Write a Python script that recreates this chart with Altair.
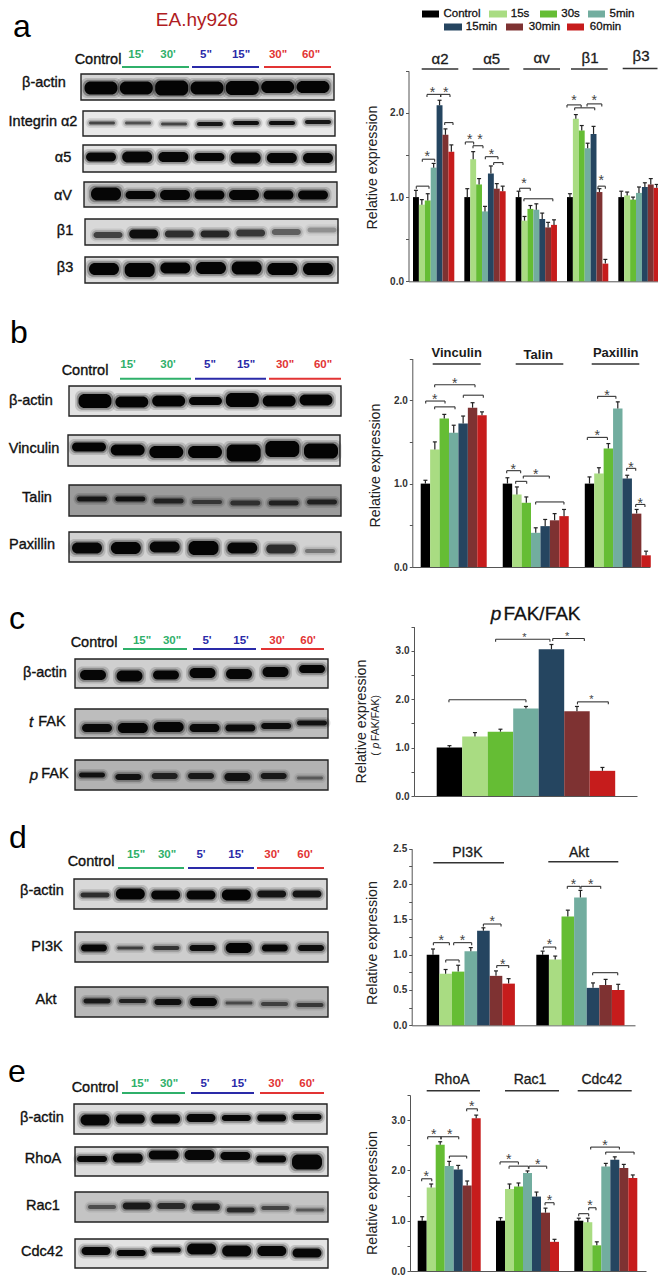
import altair as alt
import pandas as pd

FONT = "Liberation Sans"
W, H = 650, 1267
M = 8  # page margin: reference pixels minus this = chart pixels

SERIES = ["Control", "15s", "30s", "5min", "15min", "30min", "60min"]
COLORS = ["#000000", "#a9dc82", "#65bd34", "#72ad9f", "#254560", "#7e3232", "#c61c1c"]
GREEN, BLUE, RED = "#2fb06a", "#2a2aa8", "#e23434"

# ---------- values ----------
A_VALS = [[1.0, .91, .96, 1.35, 2.09, 1.74, 1.54], [1.0, 1.45, 1.15, .83, 1.28, 1.10, 1.07],
          [1.0, .72, .86, .85, .74, .64, .67], [1.0, 1.93, 1.79, 1.58, 1.75, 1.06, .21],
          [1.0, 1.02, .97, 1.05, 1.12, 1.15, 1.11]]
A_ERRS = [[1.08, .97, 1.04, 1.40, 2.15, 1.81, 1.62], [1.10, 1.54, 1.22, .89, 1.37, 1.16, 1.13],
          [1.07, .77, .90, .92, .81, .70, .73], [1.04, 1.98, 1.85, 1.64, 1.84, 1.10, .26],
          [1.07, 1.06, 1.0, 1.12, 1.17, 1.22, 1.15]]
A_BRK = [(.56, 2.71, 1.13, None, None), (1.58, 3.67, 1.45, 2.43, 1.51), (2.37, 4.69, 2.22, 3.28, 2.27),
         (4.69, 6.27, 2.22, 5.54, 2.27), (5.37, 6.78, 1.885, None, None), (8.87, 10.28, 1.655, 9.6, 1.707),
         (10.17, 11.86, 1.61, 11.36, 1.707), (12.26, 14.4, 1.48, 13.28, 1.537), (13.67, 15.25, 1.41, None, None),
         (18.07, 19.88, 1.105, 18.81, 1.184), (18.8, 23.7, .98, None, None), (26.1, 28.5, 2.095, 27.29, 2.17),
         (27.4, 30.8, 2.06, None, None), (29.5, 32.0, 2.107, 30.73, 2.18), (31.35, 32.6, 1.13, 31.9, 1.224)]

B_VALS = [[1.0, 1.41, 1.78, 1.61, 1.72, 1.91, 1.82], [1.0, .87, .77, .41, .49, .56, .61],
          [1.0, 1.12, 1.42, 1.90, 1.06, .64, .14]]
B_ERRS = [[1.04, 1.5, 1.83, 1.70, 1.81, 1.97, 1.86], [1.07, .96, .84, .47, .57, .64, .69],
          [1.08, 1.19, 1.48, 1.98, 1.10, .69, .19]]
B_BRK = [(.53, 2.58, 1.99, 1.48, 2.04), (1.48, 3.64, 1.92, None, None), (1.48, 5.76, 2.185, 3.6, 2.233),
         (4.52, 6.64, 2.06, None, None), (9.12, 10.6, 1.155, 9.82, 1.195), (10.07, 11.24, 1.027, None, None),
         (10.88, 13.64, 1.09, 12.19, 1.135), (12.19, 15.19, .78, None, None), (17.67, 19.8, 1.554, 18.73, 1.6),
         (18.76, 20.7, 2.046, 19.75, 2.085), (21.84, 22.8, 1.183, 22.3, 1.22), (22.8, 23.78, .75, 23.29, .79)]

C_VALS = [[1.0, 1.23, 1.33, 1.81, 3.03, 1.75, .52]]
C_ERRS = [[1.04, 1.31, 1.38, 1.85, 3.13, 1.85, .59]]
C_BRK = [(.48, 3.5, 1.99, None, None), (2.31, 4.44, 3.24, 3.44, 3.32), (4.55, 5.79, 3.255, 5.12, 3.33),
         (5.52, 6.73, 1.945, 6.07, 2.03)]

D_VALS = [[1.0, .73, .76, 1.05, 1.34, .70, .59], [1.0, .93, 1.54, 1.81, .53, .57, .50]]
D_ERRS = [[1.08, .79, .85, 1.10, 1.38, .77, .66], [1.05, .98, 1.63, 1.91, .60, .65, .58]]
D_BRK = [(.53, 1.8, 1.17, 1.16, 1.226), (1.51, 2.57, .925, None, None), (2.14, 3.57, 1.17, 2.83, 1.226),
         (4.5, 5.9, 1.434, 5.19, 1.505), (5.56, 6.51, .845, 6.03, .896), (9.26, 10.24, 1.108, 9.74, 1.17),
         (11.16, 12.17, 1.967, 11.64, 2.03), (12.25, 13.81, 1.967, 13.02, 2.03), (13.17, 15.16, .745, None, None)]

E_VALS = [[1.0, 1.66, 2.51, 2.09, 2.02, 1.70, 3.04], [1.0, 1.63, 1.68, 1.95, 1.48, 1.16, .58],
          [1.0, .97, .51, 2.08, 2.21, 2.05, 1.85]]
E_ERRS = [[1.08, 1.73, 2.57, 2.18, 2.10, 1.79, 3.10], [1.06, 1.73, 1.75, 1.99, 1.57, 1.25, .63],
          [1.05, 1.05, .58, 2.14, 2.27, 2.12, 1.91]]
E_BRK = [(.44, 1.56, 1.834, .96, 1.93), (1.11, 2.59, 2.67, 1.78, 2.755), (2.59, 4.56, 2.67, 3.56, 2.755),
         (3.52, 5.44, 2.285, None, None), (5.44, 6.63, 3.225, 6.0, 3.31), (9.15, 11.19, 2.17, 10.11, 2.265),
         (10.15, 12.3, 2.085, None, None), (12.37, 14.33, 2.085, 13.33, 2.17), (14.15, 15.15, 1.358, 14.63, 1.44),
         (17.89, 19.0, 1.14, None, None), (19.0, 19.81, 1.258, 19.15, 1.357), (19.22, 22.41, 2.464, 20.81, 2.55),
         (20.89, 24.04, 2.364, None, None)]

# ---------- layout of each bar chart, in reference pixels ----------
PANELS = [
    dict(vals=A_VALS, errs=A_ERRS, brk=A_BRK, axis_x=408.5, end=658, left=413, bw=5.9, y0=281.3, top=70.8, vmax=2.5,
         ticks=[0, .5, 1, 1.5, 2, 2.5], labelled="datum.value % 1 == 0 && datum.value < 2.5", tx=372, ty=167, star=14),
    dict(vals=B_VALS, errs=B_ERRS, brk=B_BRK, axis_x=412.3, end=650, left=420.7, bw=9.43, y0=567, top=358.5, vmax=2.5,
         ticks=[0, .5, 1, 1.5, 2, 2.5], labelled="datum.value % 1 == 0 && datum.value < 2.5", tx=375, ty=465, star=14),
    dict(vals=C_VALS, errs=C_ERRS, brk=C_BRK, axis_x=414, end=637, left=436.7, bw=25.5, y0=796, top=626.6, vmax=3.5,
         ticks=[0, .5, 1, 1.5, 2, 2.5, 3, 3.5], labelled="datum.value % 1 == 0 && datum.value < 3.5", tx=361, ty=721, star=11),
    dict(vals=D_VALS, errs=D_ERRS, brk=D_BRK, axis_x=411.7, end=635, left=426.7, bw=12.6, y0=1025.3, top=848.7, vmax=2.5,
         ticks=[i * .25 for i in range(11)], labelled="datum.value * 2 % 1 == 0", tx=372, ty=942.5, star=14),
    dict(vals=E_VALS, errs=E_ERRS, brk=E_BRK, axis_x=410, end=646, left=417.7, bw=9.0, y0=1271, top=1095, vmax=3.5,
         ticks=[0, .5, 1, 1.5, 2, 2.5, 3, 3.5], labelled="datum.value % 1 == 0 && datum.value < 3.5", tx=372.7, ty=1192.5, star=14),
]
GROUP_STEP = 8.7

# ---------- blots: label, label x,y, frame l,r,t,b, first/last lane centre, band width, background, thickness, darkness, centre y ----------
BLOTS = [
    ("β-actin", 44, 83, 81, 334, 74, 100, 101, 313, 33, "#d6d6d6", [13, 13, 15, 13, 14, 12, 12], [.97] * 7, [88, 88, 88, 88, 88, 87, 87]),
    ("Integrin α2", 43, 122, 83, 335, 111, 136, 102, 318, 26, "#e8e8e8", [3, 3, 3, 4, 4, 4, 4], [.6, .55, .6, .85, .9, .9, .85], [123, 123, 124, 124, 123, 123, 122]),
    ("α5", 63, 158, 83, 336, 145, 172, 101, 318, 30, "#e4e4e4", [9, 11, 10, 8, 11, 10, 10], [.95] * 7, [157, 157, 157, 157, 158, 158, 158]),
    ("αV", 63, 196, 84, 337, 182, 207, 106, 313, 30, "#cccccc", [13, 8, 10, 9, 10, 9, 9], [.95] * 7, [194, 195, 195, 195, 195, 195, 195]),
    ("β1", 65, 231, 85, 338, 219, 245, 108, 322, 29, "#d8d8d8", [6, 9, 7, 7, 7, 6, 5], [.6, .9, .7, .75, .65, .45, .25], [235, 234, 234, 234, 233, 232, 230]),
    ("β3", 65, 268, 85, 338, 257, 283, 104, 318, 30, "#dedede", [12, 14, 11, 12, 13, 12, 12], [.97] * 7, [269, 270, 268, 268, 268, 269, 269]),
    ("β-actin", 31, 401, 69, 341, 386, 416, 95, 316, 33, "#e2e2e2", [14, 11, 11, 8, 14, 11, 11], [.97] * 7, [401, 402, 401, 401, 400, 401, 400]),
    ("Vinculin", 34, 449, 68, 340, 435, 466, 89, 321, 34, "#d6d6d6", [9, 11, 12, 12, 17, 16, 15], [.97] * 7, [447, 450, 452, 452, 453, 449, 451]),
    ("Talin", 37, 498, 69, 341, 485, 516, 92, 322, 30, "#9c9c9c", [5, 5, 5, 4, 5, 5, 5], [.8, .85, .7, .55, .6, .7, .7], [499, 499, 501, 502, 503, 503, 502]),
    ("Paxillin", 32, 545, 69, 341, 532, 562, 87, 320, 30, "#d2d2d2", [11, 12, 11, 14, 11, 9, 4], [.95, .97, .95, .97, .95, .7, .35], [548, 548, 547, 548, 548, 549, 551]),
    ("β-actin", 45, 673, 75, 328, 659, 688, 93, 312, 26, "#cfcfcf", [10, 11, 9, 10, 10, 10, 8], [.95] * 7, [675, 676, 675, 673, 674, 672, 669]),
    ("FAK", 52, 722, 75, 328, 709, 738, 97, 312, 30, "#bdbdbd", [8, 10, 10, 8, 7, 6, 5], [.92, .95, .95, .92, .9, .9, .85], [728, 728, 727, 728, 728, 726, 723]),
    ("FAK", 55, 774, 75, 328, 760, 790, 92, 310, 26, "#b2b2b2", [5, 6, 6, 6, 8, 6, 3], [.85, .85, .75, .8, .85, .8, .4], [775, 777, 776, 776, 777, 776, 778]),
    ("β-actin", 42, 891, 74, 327, 879, 909, 95, 307, 29, "#d8d8d8", [5, 11, 9, 9, 11, 7, 7], [.7, .97, .95, .95, .97, .85, .85], [895, 894, 895, 895, 895, 894, 894]),
    ("PI3K", 47, 947, 75, 328, 932, 962, 94, 311, 26, "#cdcdcd", [7, 3, 4, 6, 10, 7, 6], [.95, .6, .65, .9, .97, .95, .9], [948, 948, 948, 948, 948, 948, 948]),
    ("Akt", 46, 1000, 75, 328, 987, 1017, 97, 310, 27, "#b8b8b8", [5, 4, 6, 8, 3, 4, 4], [.8, .75, .88, .95, .5, .55, .6], [1001, 1001, 1002, 1002, 1003, 1004, 1005]),
    ("β-actin", 42, 1118, 74, 327, 1104, 1134, 95, 307, 29, "#dddddd", [11, 9, 9, 8, 6, 7, 6], [.95] * 7, [1120, 1119, 1119, 1118, 1118, 1118, 1117]),
    ("RhoA", 43, 1159, 75, 328, 1147, 1176, 92, 307, 30, "#dcdcdc", [6, 9, 9, 10, 8, 7, 15], [.95] * 7, [1159, 1158, 1155, 1155, 1156, 1159, 1162]),
    ("Rac1", 43, 1206, 75, 328, 1192, 1222, 102, 310, 28, "#c4c4c4", [4, 7, 6, 7, 5, 4, 3], [.5, .8, .7, .8, .7, .55, .45], [1207, 1206, 1206, 1207, 1210, 1208, 1210]),
    ("Cdc42", 42, 1252, 75, 328, 1239, 1268, 96, 307, 29, "#e2e2e2", [8, 6, 5, 11, 11, 10, 9], [.95] * 7, [1251, 1253, 1250, 1249, 1251, 1251, 1253]),
]

# ---------- header of each blot block ----------
HEADERS = [
    dict(ctrl=(98, 60), times=["15'", "30'", '5"', '15"', '30"', '60"'], tx=[136, 168, 206, 241, 278, 311], ty=55, ry=67,
         spans=[(122, 189), (192, 259), (264, 331)]),
    dict(ctrl=(85, 371), times=["15'", "30'", '5"', '15"', '30"', '60"'], tx=[128, 168, 210, 246, 285, 323], ty=365, ry=378.7,
         spans=[(120, 191), (195, 266), (269, 341)]),
    dict(ctrl=(94, 643), times=['15"', '30"', "5'", "15'", "30'", "60'"], tx=[142, 172, 207, 241, 277, 308], ty=641, ry=649,
         spans=[(123, 187), (193, 256), (261, 324)]),
    dict(ctrl=(91, 862), times=['15"', '30"', "5'", "15'", "30'", "60'"], tx=[136, 167, 201, 236, 272, 305], ty=855, ry=868,
         spans=[(118, 184), (188, 254), (257, 324)]),
    dict(ctrl=(95, 1088), times=['15"', '30"', "5'", "15'", "30'", "60'"], tx=[140, 169, 205, 239, 276, 307], ty=1084, ry=1093,
         spans=[(122, 185), (191, 254), (260, 324)]),
]
PANEL_LETTERS = [("a", 22, 37), ("b", 19, 343), ("c", 17, 629), ("d", 18, 848), ("e", 17, 1082)]

# group headings: text, x, y, size, rule left, rule right, rule y
GROUP_HEADS = [
    ("α2", 440, 59, 15, 421.7, 458.3, 69), ("α5", 491.7, 59, 15, 472.7, 509.3, 69), ("αv", 541.7, 58, 15, 523.3, 560, 69),
    ("β1", 590, 58, 15, 571, 607.7, 69), ("β3", 641, 56, 15, 622.7, 657.5, 68.5),
    ("PI3K", 467.3, 852.7, 14, 433.3, 504, 862.7), ("Akt", 579, 852.7, 14, 548.3, 618.3, 861.7),
    ("RhoA", 452, 1080, 14, 426.7, 480, 1090.7), ("Rac1", 530, 1080, 14, 505, 559, 1090.7), ("Cdc42", 601.7, 1080, 14, 577.7, 631.7, 1090.7),
]
GROUP_HEADS_BOLD = [
    ("Vinculin", 456.7, 352.7, 13, 432.7, 480.7, 364), ("Talin", 538.3, 355, 13, 515.7, 563.3, 364), ("Paxillin", 615.7, 353, 13, 591.7, 639.3, 364),
]

# legend: label, swatch left, swatch right, text centre, row y
LEGEND = [("Control", 422, 439, 462, 14), ("15s", 489, 507, 520, 14), ("30s", 540, 557, 570.5, 14), ("5min", 588, 605, 622, 14),
          ("15min", 444, 462, 481.5, 27), ("30min", 506, 523, 544.5, 27), ("60min", 567, 584, 605.5, 27)]

# ---------- helpers ----------
FX = alt.Scale(domain=[M, M + W], range=[0, W], nice=False, zero=False)
FY = alt.Scale(domain=[M, M + H], range=[0, H], nice=False, zero=False)


def fx(f):
    return alt.X(f + ":Q", scale=FX, axis=None)


def fy(f):
    return alt.Y(f + ":Q", scale=FY, axis=None)


def text_layer(rows, weight="normal", style="normal", baseline="middle", angle=0, heavy=0.0):
    df = pd.DataFrame(rows, columns=["t", "x", "y", "size", "color"])
    extra = dict(stroke=rows[0][4], strokeWidth=heavy) if heavy else {}
    return alt.Chart(df).mark_text(font=FONT, fontWeight=weight, fontStyle=style, baseline=baseline, align="center",
                                   angle=angle, **extra).encode(
        x=fx("x"), y=fy("y"), text="t:N", size=alt.Size("size:Q", scale=None), color=alt.Color("color:N", scale=None))


def frule_layer(rows, width):
    df = pd.DataFrame(rows, columns=["x1", "x2", "y", "color"])
    return alt.Chart(df).mark_rule(strokeWidth=width).encode(
        x=fx("x1"), x2="x2:Q", y=fy("y"), color=alt.Color("color:N", scale=None))


layers = []

# blot frames and bands
frames = pd.DataFrame([dict(l=b[3], r=b[4], t=b[5], b=b[6], bg=b[10]) for b in BLOTS])
layers.append(alt.Chart(frames).mark_rect(stroke="#222222", strokeWidth=1.4).encode(
    x=fx("l"), x2="r:Q", y=fy("t"), y2="b:Q", color=alt.Color("bg:N", scale=None)))

band_rows = []
for b in BLOTS:
    first, last, bw_, thick, dark, cy = b[7], b[8], b[9], b[11], b[12], b[13]
    for i in range(7):
        cx = first + (last - first) * i / 6
        for grow, op in ((3.5, .14), (1.8, .3), (0, 1.0)):
            band_rows.append(dict(x1=cx - bw_ / 2 - grow, x2=cx + bw_ / 2 + grow,
                                  y1=cy[i] - thick[i] / 2 - grow, y2=cy[i] + thick[i] / 2 + grow, op=dark[i] * op))
layers.append(alt.Chart(pd.DataFrame(band_rows)).mark_rect(color="#000000", cornerRadius=6).encode(
    x=fx("x1"), x2="x2:Q", y=fy("y1"), y2="y2:Q", opacity=alt.Opacity("op:Q", scale=None)))

# blot labels and headers
normal_rows = [(b[0], b[1], b[2], 14.5, "#111111") for b in BLOTS]
normal_rows += [("Control", h["ctrl"][0], h["ctrl"][1], 14.5, "#111111") for h in HEADERS]
layers.append(text_layer(normal_rows, heavy=.35))
layers.append(text_layer([("t", 31, 722, 15, "#111111"), ("p", 34, 775, 15, "#111111")], style="italic", heavy=.35))

time_rows, span_rows = [], []
for h in HEADERS:
    cols = [GREEN, GREEN, BLUE, BLUE, RED, RED]
    for t, x, c in zip(h["times"], h["tx"], cols):
        time_rows.append((t, x, h["ty"], 11.5, c))
    for (l, r), c in zip(h["spans"], [GREEN, BLUE, RED]):
        span_rows.append((l, r, h["ry"], c))
layers.append(text_layer(time_rows, weight="bold"))
layers.append(frule_layer(span_rows, 2))

# panel letters and figure title
layers.append(text_layer([(t, x, y, 32, "#000000") for t, x, y in PANEL_LETTERS], baseline="alphabetic"))
layers.append(text_layer([("EA.hy926", 197, 26, 19, "#b01c22")], baseline="alphabetic"))
layers.append(text_layer([("FAK/FAK", 542, 620, 19, "#111111")], baseline="alphabetic", heavy=.3))
layers.append(text_layer([("p", 496, 620, 19, "#111111")], style="italic", baseline="alphabetic", heavy=.3))

# second line of the panel c axis title
layers.append(text_layer([("(", 376, 754, 10.5, "#222222"), ("FAK/FAK)", 376, 718, 10.5, "#222222")], angle=270))
layers.append(text_layer([("p", 376, 745.5, 10.5, "#222222")], style="italic", angle=270))

# group headings
layers.append(text_layer([(g[0], g[1], g[2], g[3], "#1a1a1a") for g in GROUP_HEADS], heavy=.3))
layers.append(text_layer([(g[0], g[1], g[2], g[3], "#1a1a1a") for g in GROUP_HEADS_BOLD], weight="bold"))
layers.append(frule_layer([(g[4], g[5], g[6], "#333333") for g in GROUP_HEADS + GROUP_HEADS_BOLD], 1.4))

# legend
leg = pd.DataFrame([dict(l=a, r=b, y1=y - 3.5, y2=y + 3.5, c=COLORS[i]) for i, (_, a, b, _t, y) in enumerate(LEGEND)])
layers.append(alt.Chart(leg).mark_rect().encode(x=fx("l"), x2="r:Q", y=fy("y1"), y2="y2:Q", color=alt.Color("c:N", scale=None)))
layers.append(text_layer([(n, t, y, 11.5, "#111111") for n, _, _, t, y in LEGEND], heavy=.3))


# bar charts
def bar_panel(p):
    xs = alt.Scale(domain=[(p["axis_x"] - p["left"]) / p["bw"], (p["end"] - p["left"]) / p["bw"]],
                   range=[p["axis_x"] - M, p["end"] - M], nice=False, zero=False)
    ys = alt.Scale(domain=[0, p["vmax"]], range=[p["y0"] - M, p["top"] - M], nice=False, zero=False)
    px_per_unit = (p["y0"] - p["top"]) / p["vmax"]
    drop = 2.5 / px_per_unit
    cap = 2.0 / p["bw"]

    def X(f):
        return alt.X(f + ":Q", scale=xs, axis=None)

    def Y(f):
        return alt.Y(f + ":Q", scale=ys, axis=None)

    rows = []
    for g, (vals, errs) in enumerate(zip(p["vals"], p["errs"])):
        for j, (v, e) in enumerate(zip(vals, errs)):
            s = g * GROUP_STEP + j
            rows.append(dict(s0=s, s1=s + 1, sc=s + .5, c0=s + .5 - cap, c1=s + .5 + cap, v=v, e=e, base=0, fill=COLORS[j]))
    df = pd.DataFrame(rows)

    y_axis = alt.Axis(orient="left", offset=-(p["axis_x"] - M), values=p["ticks"], grid=False, tickSize=3,
                      tickColor="#555555", domainColor="#555555", labelFont=FONT, labelFontWeight="bold", labelFontSize=10,
                      labelColor="#333333", labelPadding=2, labelOverlap=False, labelFlush=False,
                      labelExpr=f"{p['labelled']} ? format(datum.value, '.1f') : ''",
                      title="Relative expression", titleFont=FONT, titleFontWeight="normal", titleFontSize=14.2,
                      titleColor="#222222", titleAngle=270, titleX=p["tx"] - p["axis_x"], titleY=p["ty"] - M,
                      titleBaseline="middle", titleAlign="center")
    x_axis = alt.Axis(orient="bottom", offset=-(H - (p["y0"] - M)), values=[], labels=False, ticks=False, grid=False,
                      title=None, domainColor="#555555")
    out = [alt.Chart(df).mark_rect().encode(
        x=alt.X("s0:Q", scale=xs, axis=x_axis), x2="s1:Q",
        y=alt.Y("v:Q", scale=ys, axis=y_axis), y2="base:Q",
        color=alt.Color("fill:N", scale=None))]
    out.append(alt.Chart(df).mark_rule(color="#222222", strokeWidth=1.2).encode(x=X("sc"), y=Y("v"), y2="e:Q"))
    out.append(alt.Chart(df).mark_rule(color="#222222", strokeWidth=1.2).encode(x=X("c0"), x2="c1:Q", y=Y("e")))

    brk = pd.DataFrame(p["brk"], columns=["a", "b", "y", "sx", "sy"])
    brk["low"] = brk["y"] - drop
    out.append(alt.Chart(brk).mark_rule(color="#333333", strokeWidth=1.1).encode(x=X("a"), x2="b:Q", y=Y("y")))
    out.append(alt.Chart(brk).mark_rule(color="#333333", strokeWidth=1.1).encode(x=X("a"), y=Y("y"), y2="low:Q"))
    out.append(alt.Chart(brk).mark_rule(color="#333333", strokeWidth=1.1).encode(x=X("b"), y=Y("y"), y2="low:Q"))
    st = brk.dropna(subset=["sx"])
    out.append(alt.Chart(st).mark_text(text="*", font=FONT, fontSize=p["star"], color="#444444", baseline="middle",
                                       dy=p["star"] * .2).encode(x=X("sx"), y=Y("sy")))
    return out


for p in PANELS:
    layers.extend(bar_panel(p))

chart = alt.layer(*layers).resolve_scale(x="independent", y="independent").properties(
    width=W, height=H, padding=0, autosize=alt.AutoSizeParams(type="none"), background="#ffffff"
).configure_view(stroke=None)

chart.save("out.html", embed_options={"renderer": "svg", "actions": False})
